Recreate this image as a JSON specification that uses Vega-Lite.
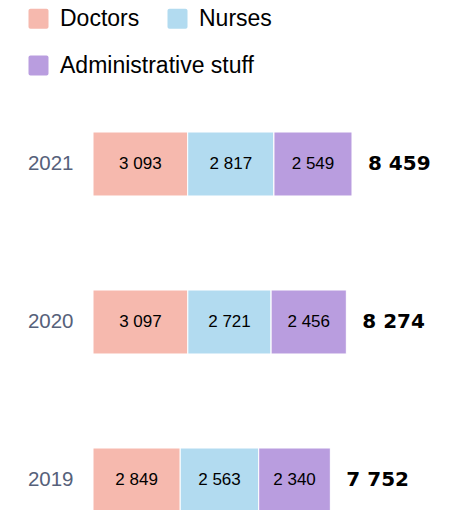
{
  "$schema": "https://vega.github.io/schema/vega-lite/v6.json",
  "autosize": "none",
  "width": 363,
  "height": 380,
  "padding": {"left": 93, "top": 132, "right": 0, "bottom": 0},
  "background": "white",
  "config": {
    "view": {"stroke": null},
    "font": "Liberation Sans",
    "legend": {
      "orient": "none",
      "direction": "horizontal",
      "title": null,
      "symbolType": "M -0.8 -1 H 0.8 A 0.2 0.2 0 0 1 1 -0.8 V 0.8 A 0.2 0.2 0 0 1 0.8 1 H -0.8 A 0.2 0.2 0 0 1 -1 0.8 V -0.8 A 0.2 0.2 0 0 1 -0.8 -1 Z",
      "symbolSize": 400,
      "symbolStrokeWidth": 0,
      "symbolOpacity": 1,
      "labelFontSize": 23,
      "labelFont": "Liberation Sans",
      "labelColor": "black",
      "labelLimit": 400,
      "labelOffset": 10,
      "columnPadding": 26,
      "padding": 0
    },
    "locale": {"number": {"decimal": ".", "thousands": " ", "grouping": [3], "currency": ["", ""]}}
  },
  "data": {
    "values": [
      {"year": "2021", "category": "Doctors", "value": 3093},
      {"year": "2021", "category": "Nurses", "value": 2817},
      {"year": "2021", "category": "Administrative stuff", "value": 2549},
      {"year": "2020", "category": "Doctors", "value": 3097},
      {"year": "2020", "category": "Nurses", "value": 2721},
      {"year": "2020", "category": "Administrative stuff", "value": 2456},
      {"year": "2019", "category": "Doctors", "value": 2849},
      {"year": "2019", "category": "Nurses", "value": 2563},
      {"year": "2019", "category": "Administrative stuff", "value": 2340}
    ]
  },
  "encoding": {
    "y": {
      "field": "year",
      "type": "ordinal",
      "sort": ["2021", "2020", "2019"],
      "scale": {"paddingInner": 0.595, "paddingOuter": 0},
      "axis": {
        "title": null,
        "domain": false,
        "ticks": false,
        "labelPadding": 20,
        "labelFontSize": 20.5,
        "labelColor": "#56617a",
        "labelFont": "Liberation Sans"
      }
    }
  },
  "layer": [
    {
      "transform": [
        {"stack": "value", "groupby": ["year"], "as": ["x0", "x1"]},
        {"calculate": "(datum.x0 + datum.x1) / 2", "as": "xmid"}
      ],
      "layer": [
        {
          "mark": {"type": "bar", "stroke": "white", "strokeWidth": 1},
          "encoding": {
            "x": {
              "field": "x0",
              "type": "quantitative",
              "scale": {"domain": [0, 11856], "nice": false, "zero": true},
              "axis": null
            },
            "x2": {"field": "x1"},
            "fill": {
              "field": "category",
              "type": "nominal",
              "sort": ["Doctors", "Nurses", "Administrative stuff"],
              "scale": {
                "domain": ["Doctors", "Nurses", "Administrative stuff"],
                "range": ["#f6b9ae", "#b2dbf0", "#b99ddf"]
              },
              "legend": {
                "values": ["Doctors", "Nurses"],
                "legendX": -66,
                "legendY": -125
              }
            }
          }
        },
        {
          "transform": [{"filter": "datum.category === 'Administrative stuff'"}],
          "mark": {"type": "bar", "stroke": "white", "strokeWidth": 1},
          "encoding": {
            "x": {"field": "x0", "type": "quantitative"},
            "x2": {"field": "x1"},
            "color": {
              "field": "category",
              "type": "nominal",
              "scale": {
                "domain": ["Administrative stuff"],
                "range": ["#b99ddf"]
              },
              "legend": {
                "legendX": -66,
                "legendY": -78
              }
            }
          }
        },
        {
          "mark": {"type": "text", "fontSize": 17, "font": "Liberation Sans", "color": "black", "baseline": "middle", "align": "center"},
          "encoding": {
            "x": {"field": "xmid", "type": "quantitative"},
            "text": {"field": "value", "type": "quantitative", "format": ",d"}
          }
        }
      ]
    },
    {
      "transform": [
        {"aggregate": [{"op": "sum", "field": "value", "as": "total"}], "groupby": ["year"]}
      ],
      "mark": {"type": "text", "fontSize": 20, "font": "DejaVu Sans", "fontWeight": "bold", "color": "black", "align": "left", "baseline": "middle", "dx": 16},
      "encoding": {
        "x": {"field": "total", "type": "quantitative"},
        "text": {"field": "total", "type": "quantitative", "format": ",d"}
      }
    }
  ]
}
